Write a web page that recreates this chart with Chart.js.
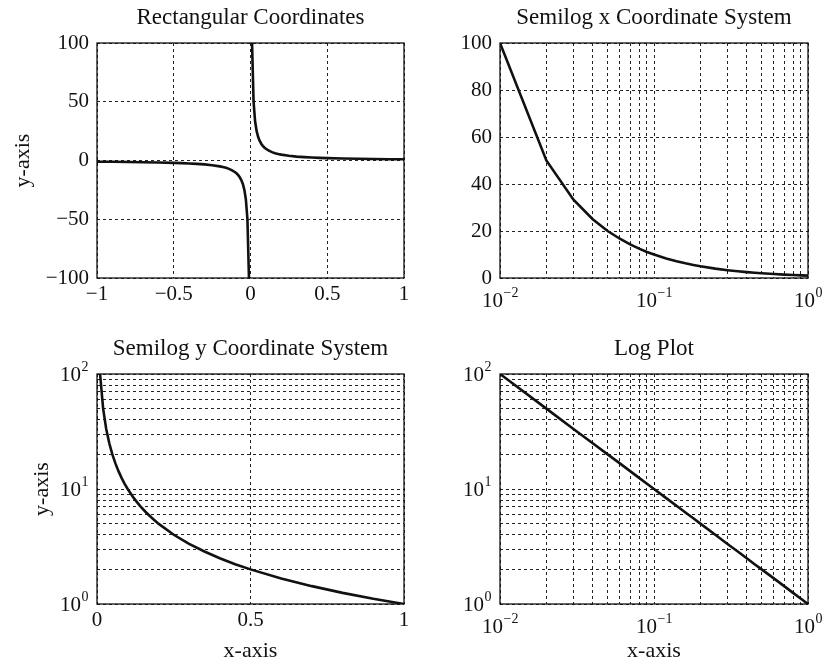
<!DOCTYPE html>
<html>
<head>
<meta charset="utf-8">
<script src="https://cdn.jsdelivr.net/npm/chart.js@4.4.1/dist/chart.umd.min.js"></script>
<style>
  html, body { margin: 0; padding: 0; background: #fff; }
  #wrap { position: relative; width: 829px; height: 665px; }
  canvas { position: absolute; }
</style>
</head>
<body>
<div id="wrap">
  <canvas id="rect" width="415" height="310" style="left:0;top:0"></canvas>
  <canvas id="semix" width="414" height="310" style="left:415px;top:0"></canvas>
  <canvas id="semiy" width="415" height="355" style="left:0;top:310px"></canvas>
  <canvas id="loglog" width="414" height="355" style="left:415px;top:310px"></canvas>
</div>
<script>
// y = 1/x
const xNeg = [-1, -0.9, -0.8, -0.7, -0.6, -0.5, -0.45, -0.4, -0.35, -0.3, -0.25, -0.2, -0.18, -0.16, -0.14, -0.12, -0.1, -0.09, -0.08, -0.07, -0.06, -0.05, -0.04, -0.03, -0.02, -0.01];
const yNeg = [-1, -1.11, -1.25, -1.43, -1.67, -2, -2.22, -2.5, -2.86, -3.33, -4, -5, -5.56, -6.25, -7.14, -8.33, -10, -11.1, -12.5, -14.3, -16.7, -20, -25, -33.3, -50, -100];
const xPos = [0.01, 0.02, 0.03, 0.04, 0.05, 0.06, 0.07, 0.08, 0.09, 0.1, 0.12, 0.14, 0.16, 0.18, 0.2, 0.25, 0.3, 0.35, 0.4, 0.45, 0.5, 0.6, 0.7, 0.8, 0.9, 1];
const yPos = [100, 50, 33.3, 25, 20, 16.7, 14.3, 12.5, 11.1, 10, 8.33, 7.14, 6.25, 5.56, 5, 4, 3.33, 2.86, 2.5, 2.22, 2, 1.67, 1.43, 1.25, 1.11, 1];

// tick / grid positions
const rectXTicks = [-1, -0.5, 0, 0.5, 1];
const rectYTicks = [-100, -50, 0, 50, 100];
const linYTicks = [0, 20, 40, 60, 80, 100];
const unitXTicks = [0, 0.5, 1];
const logXGrid = [0.01, 0.02, 0.03, 0.04, 0.05, 0.06, 0.07, 0.08, 0.09, 0.1, 0.2, 0.3, 0.4, 0.5, 0.6, 0.7, 0.8, 0.9, 1];
const logYGrid = [1, 2, 3, 4, 5, 6, 7, 8, 9, 10, 20, 30, 40, 50, 60, 70, 80, 90, 100];
const logXLabels = [0.01, 0.1, 1];
const logYLabels = [1, 10, 100];

const SERIF = '"Liberation Serif", "Times New Roman", serif';
Chart.defaults.font.family = SERIF;
Chart.defaults.font.size = 21;
Chart.defaults.color = '#111';

// box around the plot area like the original
const frame = {
  id: 'frame',
  afterDatasetsDraw(chart) {
    const { ctx, chartArea: a } = chart;
    ctx.save();
    ctx.strokeStyle = '#111';
    ctx.lineWidth = 1.3;
    ctx.strokeRect(a.left, a.top, a.right - a.left, a.bottom - a.top);
    ctx.restore();
  }
};

// title centred over the plot area (matlab style)
const panelTitle = {
  id: 'panelTitle',
  afterDraw(chart, args, opts) {
    const { ctx, chartArea: a } = chart;
    ctx.save();
    ctx.font = '23px ' + SERIF;
    ctx.fillStyle = '#111';
    ctx.textAlign = 'center';
    ctx.textBaseline = 'middle';
    ctx.fillText(opts.text, (a.left + a.right) / 2, opts.y);
    ctx.restore();
  }
};

// 10^n labels with a real raised exponent
function drawPow(ctx, exp, x, y, align) {
  const base = '10';
  const sup = exp < 0 ? '\u2212' + (-exp) : String(exp);
  ctx.font = '21px ' + SERIF;
  const wb = ctx.measureText(base).width;
  ctx.font = '14px ' + SERIF;
  const ws = ctx.measureText(sup).width;
  const left = align === 'right' ? x - wb - ws : x - (wb + ws) / 2;
  ctx.textAlign = 'left';
  ctx.textBaseline = 'middle';
  ctx.font = '21px ' + SERIF;
  ctx.fillText(base, left, y);
  ctx.font = '14px ' + SERIF;
  ctx.fillText(sup, left + wb + 0.5, y - 8);
}

const powLabels = {
  id: 'powLabels',
  afterDraw(chart, args, opts) {
    const { ctx, chartArea: a, scales } = chart;
    ctx.save();
    ctx.fillStyle = '#111';
    (opts.x || []).forEach(v => {
      drawPow(ctx, Math.round(Math.log10(v)), scales.x.getPixelForValue(v), a.bottom + 23, 'center');
    });
    (opts.y || []).forEach(v => {
      drawPow(ctx, Math.round(Math.log10(v)), a.left - 9, scales.y.getPixelForValue(v) + 1, 'right');
    });
    ctx.restore();
  }
};

function pts(xs, ys) {
  return xs.map((x, i) => ({ x, y: ys[i] }));
}

function curve(xs, ys) {
  return {
    data: pts(xs, ys),
    borderColor: '#111',
    borderWidth: 2.6,
    pointRadius: 0,
    tension: 0,
    fill: false
  };
}

function axis(type, min, max, gridVals, labelVals, size, pad, title) {
  const log = type === 'logarithmic';
  return {
    type, min, max,
    afterBuildTicks: s => { s.ticks = gridVals.map(v => ({ value: v })); },
    afterFit: s => { if (s.isHorizontal()) s.height = size; else s.width = size; },
    grid: { color: '#222', lineWidth: 1, drawTicks: false },
    border: { display: false, dash: [3, 3] },
    ticks: {
      autoSkip: false, maxRotation: 0, padding: pad, color: '#111',
      font: { size: 21 },
      callback: v => {
        if (log || !labelVals.includes(v)) return '';
        return v < 0 ? '\u2212' + (-v) : String(v);
      }
    },
    title: title || { display: false }
  };
}

function makeChart(id, name, top, datasets, xAxis, yAxis, padRight, pow) {
  return new Chart(document.getElementById(id), {
    type: 'line',
    data: { datasets },
    options: {
      responsive: false,
      animation: false,
      layout: { padding: { left: 0, right: padRight, top: top, bottom: 0 } },
      plugins: {
        legend: { display: false },
        tooltip: { enabled: false },
        title: { display: false },
        panelTitle: { text: name, y: top - 25 },
        powLabels: pow
      },
      scales: { x: xAxis, y: yAxis }
    },
    plugins: [frame, panelTitle, powLabels]
  });
}

const yTitle = pad => ({ display: true, text: 'y-axis', color: '#111', font: { size: 22 }, padding: { top: pad, bottom: 0 } });
const xTitle = { display: true, text: 'x-axis', color: '#111', font: { size: 22 }, padding: { top: 0, bottom: 1 } };

makeChart('rect', 'Rectangular Coordinates', 43,
  [curve(xNeg, yNeg), curve(xPos, yPos)],
  axis('linear', -1, 1, rectXTicks, rectXTicks, 32, 4),
  axis('linear', -100, 100, rectYTicks, rectYTicks, 97, 8, yTitle(10)),
  11, {});

makeChart('semix', 'Semilog x Coordinate System', 43,
  [curve(xPos, yPos)],
  axis('logarithmic', 0.01, 1, logXGrid, logXLabels, 32, 5),
  axis('linear', 0, 100, linYTicks, linYTicks, 85, 8),
  21, { x: logXLabels });

makeChart('semiy', 'Semilog y Coordinate System', 64,
  [curve(xPos, yPos)],
  axis('linear', 0, 1, unitXTicks, unitXTicks, 61, 4, xTitle),
  axis('logarithmic', 1, 100, logYGrid, logYLabels, 97, 8, yTitle(29)),
  11, { y: logYLabels });

makeChart('loglog', 'Log Plot', 64,
  [curve(xPos, yPos)],
  axis('logarithmic', 0.01, 1, logXGrid, logXLabels, 61, 5, xTitle),
  axis('logarithmic', 1, 100, logYGrid, logYLabels, 85, 8),
  21, { x: logXLabels, y: logYLabels });
</script>
</body>
</html>
